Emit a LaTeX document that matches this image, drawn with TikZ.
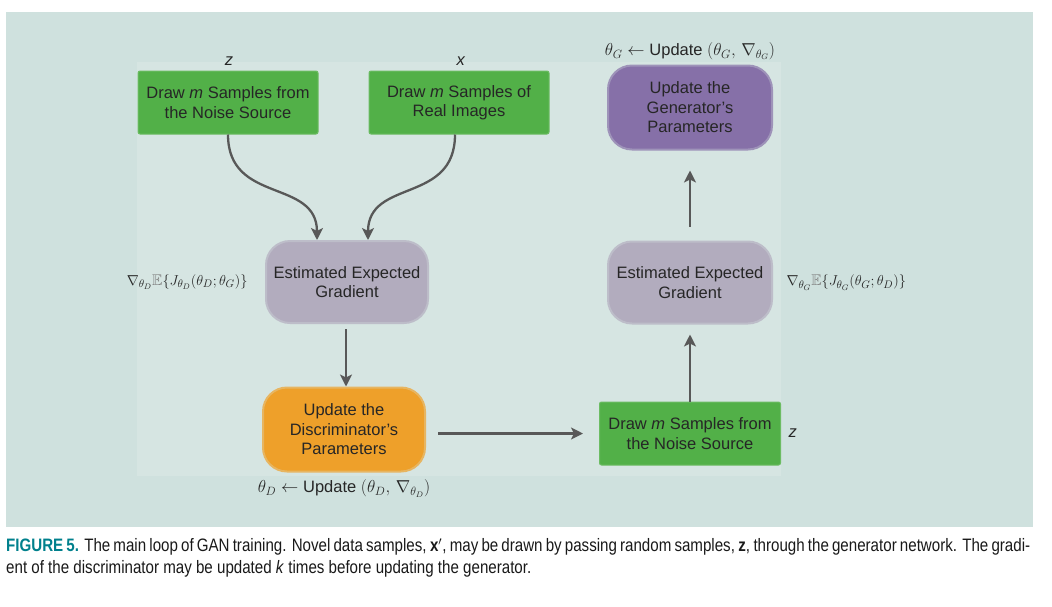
\documentclass[tikz,border=0pt]{standalone}
\usepackage{fontspec}
\usepackage{amssymb}
\setmainfont{Liberation Sans}
\newfontfamily\captionfont[FakeStretch=0.84]{Liberation Sans}
\usepackage{tikz}
\usetikzlibrary{shapes,arrows.meta,positioning}
\definecolor{GanBack}{RGB}{207,225,222}
\definecolor{GanInner}{RGB}{214,229,226}
\definecolor{GanGreen}{RGB}{82,176,72}
\definecolor{GanLavender}{RGB}{178,172,190}
\definecolor{GanOrange}{RGB}{238,160,42}
\definecolor{GanPurple}{RGB}{134,112,168}
\definecolor{GanArrow}{RGB}{88,88,88}
\definecolor{GanTeal}{RGB}{0,128,140}

\begin{document}
\begin{tikzpicture}[x=1pt,y=-1pt,
    every node/.style={font=\fontsize{16.5}{19.5}\selectfont,text=black!85},
    drawbox/.style={rectangle,rounded corners=2pt,fill=GanGreen,draw=GanGreen!85!white,
        line width=1pt,align=center,minimum width=180pt,minimum height=63pt,inner sep=2pt},
    blob/.style={rectangle,rounded corners=24pt,line width=2pt,align=center,
        minimum width=162pt,minimum height=82pt,inner sep=2pt},
    gradlabel/.style={font=\fontsize{15.5}{18}\selectfont},
    flow/.style={-{Stealth[length=12pt,width=12pt,inset=3pt]},line width=2.3pt,color=GanArrow}]
    \useasboundingbox (0,0) rectangle (1052,606);
    \fill[GanBack] (6,12) rectangle (1033,527);
    \fill[GanInner] (137,62) rectangle (781,476);

    % discriminator side
    \node[drawbox] (noiseD) at (228,102.5) {Draw \textit{m} Samples from\\the Noise Source};
    \node[drawbox] (realD) at (459,102.5) {Draw \textit{m} Samples of\\Real Images};
    \node[blob,fill=GanLavender,draw=GanLavender!70!GanInner] (gradD) at (347,282) {Estimated Expected\\Gradient};
    \node[blob,fill=GanOrange,draw=GanOrange!70!GanInner,minimum height=84pt] (updD) at (344,429.5) {Update the\\Discriminator's\\Parameters};
    \node (zD) at (229,61) {\textit{z}};
    \node (xD) at (461,61) {\textit{x}};
    \node[gradlabel,left=14pt of gradD] (nablaD) {$\nabla_{\theta_D}{\color{gray}\mathbb{E}}\{J_{\theta_D}(\theta_D;\theta_G)\}$};
    \node[below=4pt of updD] (ruleD) {$\theta_D\leftarrow{}$Update $(\theta_D,\,\nabla_{\theta_D})$};

    % generator side
    \node[drawbox,minimum width=181pt] (noiseG) at (690,433.5) {Draw \textit{m} Samples from\\the Noise Source};
    \node[blob,fill=GanLavender,draw=GanLavender!70!GanInner,minimum width=164pt] (gradG) at (690,282.5) {Estimated Expected\\Gradient};
    \node[blob,fill=GanPurple,draw=GanPurple!70!GanInner,minimum width=164pt,minimum height=84pt] (updG) at (690,107.5) {Update the\\Generator's\\Parameters};
    \node[right=4pt of noiseG] (zG) {\textit{z}};
    \node[gradlabel,right=10pt of gradG] (nablaG) {$\nabla_{\theta_G}{\color{gray}\mathbb{E}}\{J_{\theta_G}(\theta_G;\theta_D)\}$};
    \node[above=1pt of updG] (ruleG) {$\theta_G\leftarrow{}$Update $(\theta_G,\,\nabla_{\theta_G})$};

    \draw[flow] (noiseD.south) .. controls +(0,70) and +(0,-62) .. ([xshift=-30pt]gradD.north);
    \draw[flow] ([xshift=-4pt]realD.south) .. controls +(0,70) and +(0,-62) .. ([xshift=21pt]gradD.north);
    \draw[flow,shorten <=5pt] ([xshift=-1pt]gradD.south) -- ([xshift=-1pt]gradD.south |- updD.north);
    \draw[flow,shorten <=12pt,shorten >=16pt] (updD.east |- noiseG.west) -- (noiseG.west);
    \draw[flow,shorten >=10pt] (noiseG) -- (gradG);
    \draw[flow,shorten <=14pt,shorten >=20pt] (gradG) -- (updG);

    % caption
    \node[anchor=west,inner sep=0pt,font=\captionfont\fontsize{18}{22}\selectfont,text=black!90] (capA) at (6,547)
        {\hbox to 1024pt{\textcolor{GanTeal}{\textbf{FIGURE 5.}} The main loop of GAN training. Novel data samples, \textbf{x}$'$, may be drawn by passing random samples, \textbf{z}, through the generator network. The gradi-}};
    \node[anchor=west,inner sep=0pt,font=\captionfont\fontsize{18}{22}\selectfont,text=black!90] (capB) at (6,569)
        {ent of the discriminator may be updated \textit{k} times before updating the generator.};
\end{tikzpicture}
\end{document}
